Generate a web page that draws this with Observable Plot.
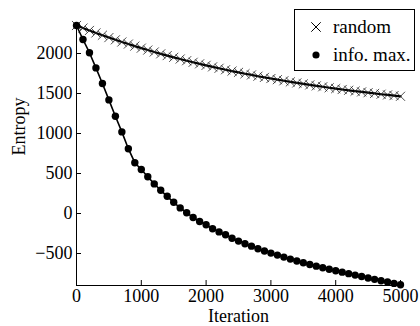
<!DOCTYPE html>
<html><head><meta charset="utf-8">
<script src="https://cdn.jsdelivr.net/npm/d3@7"></script>
<script src="https://cdn.jsdelivr.net/npm/@observablehq/plot@0.6"></script>
<style>
body{margin:0;background:#fff;}
#wrap{position:relative;width:420px;height:326px;font-family:"Liberation Serif","Times New Roman",serif;}
#legend{position:absolute;left:294px;top:9px;width:121px;height:62px;border:1px solid #000;background:#fff;box-sizing:border-box;font-size:19px;color:#000;}
.row{position:absolute;left:0;height:20px;line-height:20px;white-space:nowrap;}
.row svg{position:absolute;left:14px;top:3px;}
.row span{position:absolute;left:38px;top:0;}
</style></head><body><div id="wrap"></div>
<script>
const iterations = [0,100,200,300,400,500,600,700,800,900,1000,1100,1200,1300,1400,1500,1600,1700,1800,1900,2000,2100,2200,2300,2400,2500,2600,2700,2800,2900,3000,3100,3200,3300,3400,3500,3600,3700,3800,3900,4000,4100,4200,4300,4400,4500,4600,4700,4800,4900,5000];
const randomEntropy = [2350,2318,2288,2257,2228,2199,2171,2144,2118,2092,
  2067,2043,2019,1996,1974,1952,1931,1910,1890,1871,
  1852,1833,1815,1797,1780,1764,1747,1732,1716,1701,
  1687,1673,1659,1645,1632,1620,1607,1595,1584,1572,
  1561,1550,1540,1530,1520,1510,1501,1491,1482,1474,
  1465];
const infoMaxEntropy = [2350,2175,2010,1820,1625,1420,1215,1020,810,635,
  550,460,370,290,215,140,70,10,-50,-100,
  -140,-190,-230,-265,-310,-345,-378,-408,-440,-468,
  -495,-520,-545,-570,-594,-615,-637,-658,-678,-697,
  -715,-733,-752,-770,-788,-806,-823,-840,-857,-874,
  -890];
const xTicks = [0,1000,2000,3000,4000,5000];
const yTicks = [-500,0,500,1000,1500,2000];
const seriesNames = ["random","info. max."];
const seriesSymbols = ["times","circle"];
const xLabel = "Iteration";
const yLabel = "Entropy";

const randomData = iterations.map((x,i)=>({x, y: randomEntropy[i]}));
const infoData = iterations.map((x,i)=>({x, y: infoMaxEntropy[i]}));
const fmt = d3.format("d");
const yMin = -900, yMax = 2350;

const chart = Plot.plot({
  width: 420, height: 326,
  marginLeft: 76, marginRight: 20, marginTop: 25, marginBottom: 41,
  style: {fontFamily: "'Liberation Serif', serif", fontSize: "18px", background: "white", color: "black"},
  x: {domain: [0,5000], ticks: xTicks, tickFormat: fmt, tickSize: 0, tickPadding: 4, label: null},
  y: {domain: [yMin,yMax], ticks: yTicks, tickFormat: fmt, tickSize: 0, tickPadding: 4, label: null},
  marks: [
    Plot.ruleX([0], {stroke: "black", strokeWidth: 1}),
    Plot.ruleY([yMin], {stroke: "black", strokeWidth: 1}),
    Plot.ruleX(xTicks, {x: d => d, y1: () => yMin, y2: () => yMin, insetBottom: 5, stroke: "black"}),
    Plot.ruleY(yTicks, {y: d => d, x1: () => 0, x2: () => 0, insetRight: -5, stroke: "black"}),
    Plot.line(randomData, {x: "x", y: "y", stroke: "black", strokeWidth: 2.2}),
    Plot.dot(randomData, {x: "x", y: "y", symbol: seriesSymbols[0], r: 4.2, stroke: "#222", strokeWidth: 0.8}),
    Plot.line(infoData, {x: "x", y: "y", stroke: "black", strokeWidth: 1.6}),
    Plot.dot(infoData, {x: "x", y: "y", symbol: seriesSymbols[1], r: 3.7, fill: "black", stroke: "none"}),
    Plot.text([xLabel], {frameAnchor: "bottom", dy: 31, lineAnchor: "middle", fontSize: 18}),
    Plot.text([yLabel], {frameAnchor: "left", dx: -57, rotate: -90, lineAnchor: "middle", fontSize: 18})
  ]
});
const wrap = document.getElementById("wrap");
wrap.appendChild(chart);

const legend = d3.select(wrap).append("div").attr("id","legend");
const rowTops = [7, 35];
seriesNames.forEach((name, i) => {
  const row = legend.append("div").attr("class","row").style("top", rowTops[i] + "px");
  const svg = row.append("svg").attr("width", 14).attr("height", 14);
  const sym = seriesSymbols[i] === "times" ? d3.symbolTimes : d3.symbolCircle;
  const size = seriesSymbols[i] === "times" ? 60 : 40;
  svg.append("path")
    .attr("transform", "translate(7,7)")
    .attr("d", d3.symbol(sym, size)())
    .attr("fill", seriesSymbols[i] === "times" ? "none" : "black")
    .attr("stroke", seriesSymbols[i] === "times" ? "black" : "none")
    .attr("stroke-width", 1);
  row.append("span").text(name);
});
</script></body></html>
